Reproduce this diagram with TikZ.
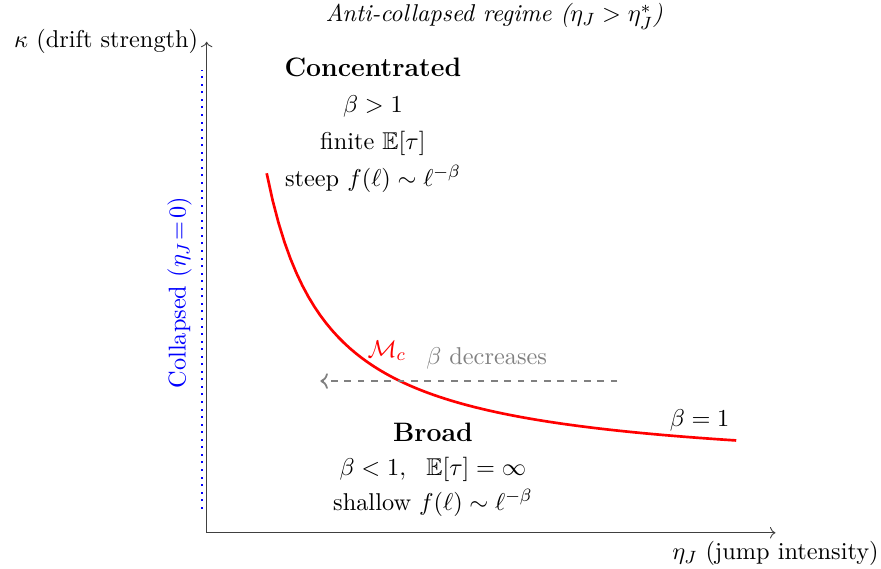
\documentclass[11pt,tikz,border=0pt]{standalone}
\usepackage{amsmath}
\usepackage{amssymb}
\usepackage{xcolor}
\usetikzlibrary{arrows.meta, positioning, calc}

\begin{document}
\begin{tikzpicture}[>=To, scale=1]

\useasboundingbox (-3.27,-0.57) rectangle (10.67,8.43);

% Axes
\coordinate (O) at (0,0);
\coordinate (xend) at (9,0);
\coordinate (yend) at (0,7.77);
\draw[->, black!75] (O) -- (xend) node[below, black] (xlab) {$\eta_J$ (jump intensity)};
\draw[->, black!75] (O) -- (yend) node[left, black] (ylab) {$\kappa$ (drift strength)};

% Title
\node (title) at (4.55,8.17) {\textit{Anti-collapsed regime ($\eta_J > \eta_J^*$)}};

% Collapsed boundary (blue)
\coordinate (cbot) at (-0.08,0.38);
\coordinate (ctop) at (-0.08,7.33);
\draw[blue, line width=0.9pt, dash pattern=on 0.9pt off 2.5pt] (cbot) -- (ctop);
\node[blue, rotate=90] (coll) at (-0.43,3.8) {Collapsed ($\eta_J\!=\!0$)};

% Critical manifold (red)
\draw[red, very thick, domain=0.95:8.38, samples=80] plot (\x, {0.92+4.53/\x});
\node[red] (mc) at (2.85,2.88) {$\mathcal{M}_c$};
\node (b1) at (7.8,1.77) {$\beta = 1$};

% Direction of decreasing beta
\coordinate (dstart) at (6.5,2.4);
\coordinate (dend) at (1.8,2.4);
\draw[->, gray, thick, dashed] (dstart) -- (dend);
\node[gray] (bdec) at (4.43,2.76) {$\beta$ decreases};

% Regimes
\node[align=center] (conc) at (2.63,6.45) {{\large\textbf{Concentrated}}\\[3pt] $\beta > 1$\\[3pt] finite $\mathbb{E}[\tau]$\\[3pt] steep $f(\ell) \sim \ell^{-\beta}$};
\node[align=center] (broad) at (3.58,1.0) {{\large\textbf{Broad}}\\[2pt] $\beta < 1,\ \ \mathbb{E}[\tau] = \infty$\\[2pt] shallow $f(\ell) \sim \ell^{-\beta}$};

\end{tikzpicture}
\end{document}
